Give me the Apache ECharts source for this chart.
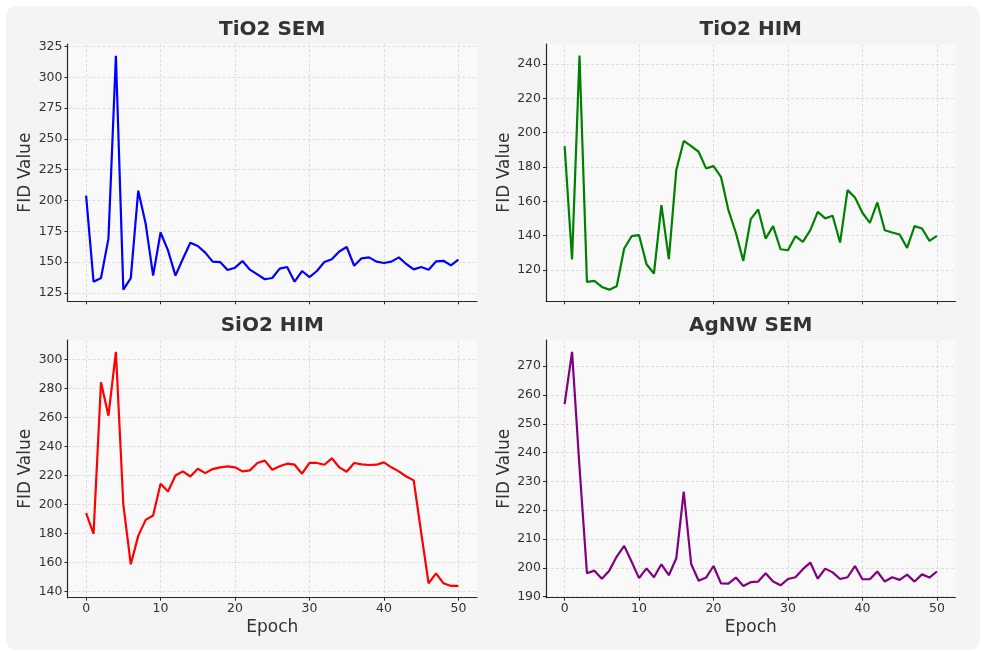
<!DOCTYPE html>
<html><head><meta charset="utf-8">
<script src="https://cdn.jsdelivr.net/npm/echarts@6/dist/echarts.min.js"></script>
<style>
html,body{margin:0;padding:0;background:#ffffff;}
#bg{position:absolute;left:6px;top:6px;width:974px;height:644px;border-radius:10px;background:#f4f4f4;}
#chart{position:absolute;left:0;top:0;width:983px;height:651px;}
</style></head><body><div id="bg"></div><div id="chart"></div>
<script>
const epochs = [0,1,2,3,4,5,6,7,8,9,10,11,12,13,14,15,16,17,18,19,20,21,22,23,24,25,26,27,28,29,30,31,32,33,34,35,36,37,38,39,40,41,42,43,44,45,46,47,48,49,50];
const tio2Sem = [204,134,137,169,317.6,127.6,137,208,181,139,174,159.5,139,152.7,165.7,163,157.6,150.3,150,143.5,145.4,150.8,143.8,140,136,137,144.6,146,134,142.7,137.8,142.7,150,152.2,158.6,162.2,147,153,153.8,150.3,149.2,150.3,153.8,148.4,144,146,143.8,150.5,151,147.3,152];
const tio2Him = [192.2,126,245,112.9,113.5,110,108.4,110.4,132.4,139.6,140.2,123.2,117.8,157.7,126.2,178.2,195.2,192.2,188.9,179.2,180.5,174.3,154.8,141.6,125.2,149.6,155.2,138.2,145.5,132,131.4,139.6,136.3,143.1,153.8,150,151.5,135.9,166.5,162.2,153.3,147.4,159.3,143.1,141.8,140.6,132.8,145.5,144.1,136.9,139.8];
const sio2Him = [194.1,179.9,284.3,261.3,305.3,200,158.9,178.5,189.5,192.5,214.4,209.1,220.1,222.9,219.4,224.7,221.7,224.5,225.7,226.4,225.7,222.9,223.6,228.7,230.3,224,226.4,228.2,227.5,221.3,228.7,228.7,227.5,231.9,225.7,222.7,228.7,227.7,227.3,227.5,229.1,225.7,222.9,219.4,216.7,180.8,145.8,152.7,145.8,144,144];
const agnwSem = [256.8,275,235,198.1,199,196.2,199,203.9,207.6,202.1,196.4,199.8,196.7,201.2,197.4,203.3,226.4,201.3,195.5,196.6,200.6,194.6,194.5,196.6,193.7,195,195.2,198.1,195.2,193.9,196.1,196.7,199.5,201.8,196.2,199.7,198.4,196.1,196.7,200.6,196,196,198.7,195.2,196.7,195.8,197.6,195.2,197.7,196.6,198.7];

const titles = ['TiO2 SEM','TiO2 HIM','SiO2 HIM','AgNW SEM'];
const seriesList = [tio2Sem, tio2Him, sio2Him, agnwSem];
const colors = ['#0000ff','#008000','#ff0000','#800080'];
const xTicks = [0,10,20,30,40,50];
const yTicks = [
  [125,150,175,200,225,250,275,300,325],
  [120,140,160,180,200,220,240],
  [140,160,180,200,220,240,260,280,300],
  [190,200,210,220,230,240,250,260,270]
];
const yRanges = [[118.1,327.1],[101.6,251.8],[135.9,313.4],[189.6,279.1]];

const FONT = 'DejaVu Sans';
const TXT = '#333333';
const grids = [
  {left:67.5, top:44, width:409.5, height:257.3},
  {left:546, top:44, width:409.5, height:257.3},
  {left:67.5, top:340, width:409.5, height:257.7},
  {left:546, top:340, width:409.5, height:257.7}
].map(g => Object.assign({show:true, backgroundColor:'#f9f9f9', borderWidth:0}, g));

const splitStyle = {show:true, lineStyle:{color:'#d6d6d6', width:0.8, type:[3,2]}};
const axisLineStyle = {show:true, lineStyle:{color:'#262626', width:1.2}};

const xAxes = [0,1,2,3].map(i => ({
  type:'value', gridIndex:i, min:-2.5, max:52.5,
  axisLine: Object.assign({onZero:false}, axisLineStyle),
  axisTick:{show:true, length:3, customValues:xTicks, lineStyle:{color:'#262626'}},
  axisLabel:{show:i>=2, customValues:xTicks, fontFamily:FONT, fontSize:12.5, color:TXT, margin:5},
  splitLine: splitStyle,
  name: i>=2 ? 'Epoch' : '', nameLocation:'middle', nameGap:21,
  nameTextStyle:{fontFamily:FONT, fontSize:17, color:TXT}
}));
const yAxes = [0,1,2,3].map(i => ({
  type:'value', gridIndex:i, min:yRanges[i][0], max:yRanges[i][1],
  axisLine: Object.assign({onZero:false}, axisLineStyle),
  axisTick:{show:true, length:3, customValues:yTicks[i], lineStyle:{color:'#262626'}},
  axisLabel:{customValues:yTicks[i], fontFamily:FONT, fontSize:12.5, color:TXT, margin:5},
  splitLine: splitStyle,
  name:'FID Value', nameLocation:'middle', nameGap:33,
  nameTextStyle:{fontFamily:FONT, fontSize:17, color:TXT}
}));

const centers = [272.25, 750.75, 272.25, 750.75];
const tops = [20, 20, 316, 316];
const option = {
  animation:false,
  backgroundColor:'transparent',
  title: titles.map((t,i) => ({
    text:t, left:centers[i], top:tops[i], textAlign:'center', padding:0,
    textStyle:{fontFamily:FONT, fontSize:20, fontWeight:'bold', color:TXT}
  })),
  grid: grids,
  xAxis: xAxes,
  yAxis: yAxes,
  series: seriesList.map((vals,i) => ({
    type:'line', xAxisIndex:i, yAxisIndex:i, showSymbol:false, symbol:'none',
    data: epochs.map((e,j) => [e, vals[j]]),
    lineStyle:{color:colors[i], width:2.2},
    itemStyle:{color:colors[i]}
  }))
};
const chart = echarts.init(document.getElementById('chart'), null, {renderer:'canvas'});
chart.setOption(option);
</script></body></html>
